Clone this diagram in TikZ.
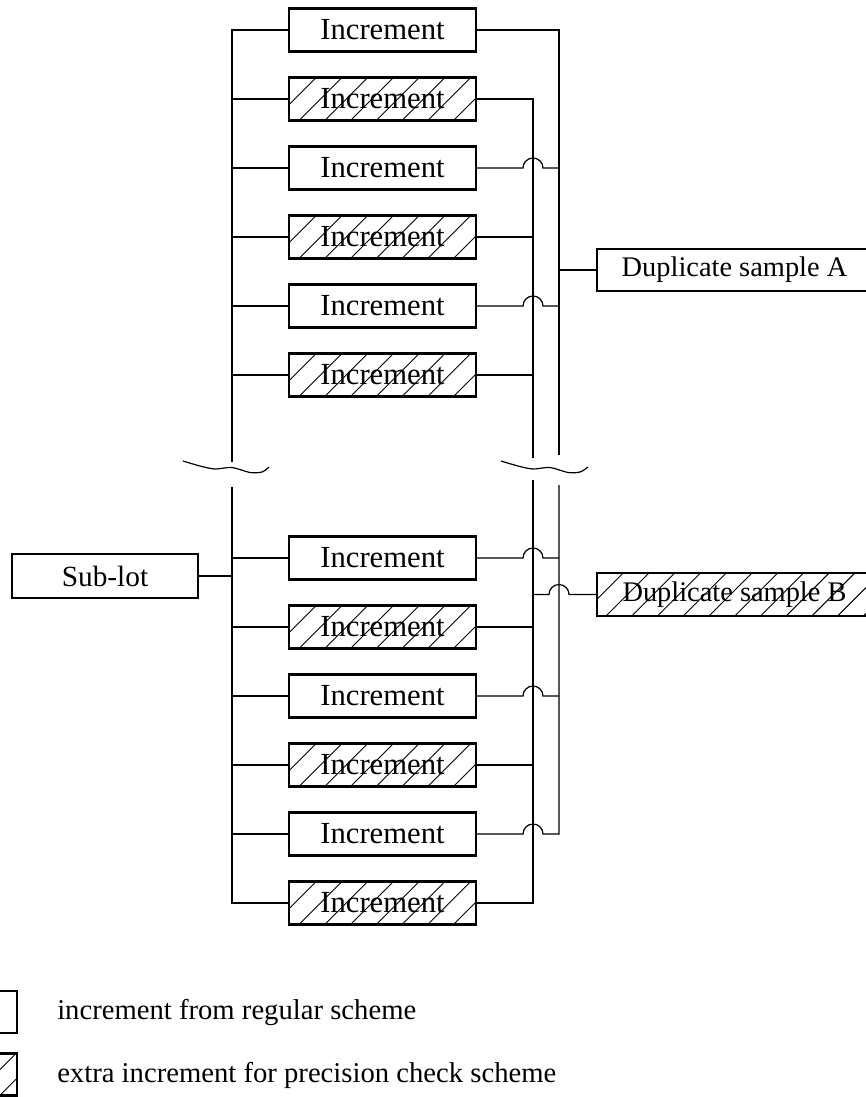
\documentclass[tikz,border=0pt]{standalone}
\usepackage{fontspec}
\setmainfont{Liberation Serif}
\begin{document}
\begin{tikzpicture}[x=0.75pt,y=-0.75pt,
  box/.style={draw,line width=1.7pt,minimum width=140.25pt,minimum height=32.25pt,inner sep=0pt,font=\fontsize{22}{26}\selectfont},
  incbox/.style={box,font=\fontsize{23}{27}\selectfont},
  dupbox/.style={box,minimum width=206.25pt,font=\fontsize{21.3}{26}\selectfont},
  hatch/.default=7.5pt,
  hatch/.style={path picture={\foreach \k in {-3,...,16}{\draw[line width=0.7pt] ([xshift=\k*19.3pt+#1]path picture bounding box.south west) -- ++(45pt,45pt);}}},
  conn/.style={line width=0.9pt},
  lgtext/.style={anchor=west,inner sep=0pt,font=\fontsize{21.5}{26}\selectfont}]
\useasboundingbox (0,0) rectangle (865,1097);
% increments
\node[incbox] (u1) at (382.5,30) {Increment};
\node[incbox,hatch] (u2) at (382.5,99) {Increment};
\node[incbox] (u3) at (382.5,168) {Increment};
\node[incbox,hatch] (u4) at (382.5,237) {Increment};
\node[incbox] (u5) at (382.5,306) {Increment};
\node[incbox,hatch] (u6) at (382.5,375) {Increment};
\node[incbox] (l1) at (382.5,558) {Increment};
\node[incbox,hatch] (l2) at (382.5,627) {Increment};
\node[incbox] (l3) at (382.5,696) {Increment};
\node[incbox,hatch] (l4) at (382.5,765) {Increment};
\node[incbox] (l5) at (382.5,834) {Increment};
\node[incbox,hatch] (l6) at (382.5,903) {Increment};
\node[box,minimum width=139.5pt,minimum height=33pt] (sub) at (105,576) {Sub-lot};
\node[dupbox,minimum height=31.5pt] (da) at (734.5,270) {Duplicate sample A};
\node[dupbox,hatch=6.75pt] (db) at (734.5,594.5) {Duplicate sample B};
% legend
\node[box,minimum width=31.5pt,minimum height=31.5pt] (lg1) at (-4,1012) {};
\node[box,hatch=18.5pt,minimum width=31.5pt,minimum height=31.5pt] (lg2) at (-4,1074.5) {};
\node[lgtext] (t1) at (57,1012) {increment from regular scheme};
\node[lgtext] (t2) at (57,1075) {extra increment for precision check scheme};
% bus coordinates
\coordinate (Lt) at (232,462);
\coordinate (Lb) at (232,487);
\coordinate (At) at (559,455);
\coordinate (Ab) at (559,485);
\coordinate (Bt) at (533,458);
\coordinate (Bb) at (533,480);
% left bus
\draw[conn] (Lt) -- (u1.west -| Lt) -- (u1.west);
\foreach \n in {u2,u3,u4,u5,u6}{\draw[conn] (\n.west) -- (\n.west -| Lt);}
\draw[conn] (Lb) -- (l6.west -| Lb) -- (l6.west);
\foreach \n in {l1,l2,l3,l4,l5}{\draw[conn] (\n.west) -- (\n.west -| Lb);}
\draw[conn] (sub.east) -- (sub.east -| Lb);
% right buses
\draw[conn] (u1.east) -- (u1.east -| At) -- (At);
\draw[conn] (u2.east) -- (u2.east -| Bt) -- (Bt);
\foreach \n in {u3,u5}{\draw[conn] (\n.east) -- ([xshift=-7.5pt]\n.east -| Bt) arc[start angle=180,end angle=0,radius=7.5pt] -- (\n.east -| At);}
\foreach \n in {u4,u6}{\draw[conn] (\n.east) -- (\n.east -| Bt);}
\foreach \n in {l1,l3}{\draw[conn] (\n.east) -- ([xshift=-7.5pt]\n.east -| Bb) arc[start angle=180,end angle=0,radius=7.5pt] -- (\n.east -| Ab);}
\draw[conn] (l5.east) -- ([xshift=-7.5pt]l5.east -| Bb) arc[start angle=180,end angle=0,radius=7.5pt] -- (l5.east -| Ab) -- (Ab);
\foreach \n in {l2,l4}{\draw[conn] (\n.east) -- (\n.east -| Bb);}
\draw[conn] (l6.east) -- (l6.east -| Bb) -- (Bb);
\draw[conn] (da.west) -- (da.west -| At);
\draw[conn] (db.west) -- ([xshift=7.5pt]db.west -| At) arc[start angle=0,end angle=180,radius=7.5pt] -- (db.west -| Bb);
% break marks
\draw[conn] plot[smooth] coordinates {(183,461) (200,466) (215,469) (232,467.5) (250,472.5) (262,472) (269,467)};
\draw[conn] plot[smooth] coordinates {(501,461) (518,466) (533,469) (550,467.5) (568,472.5) (580,472) (588,467)};
\end{tikzpicture}
\end{document}
